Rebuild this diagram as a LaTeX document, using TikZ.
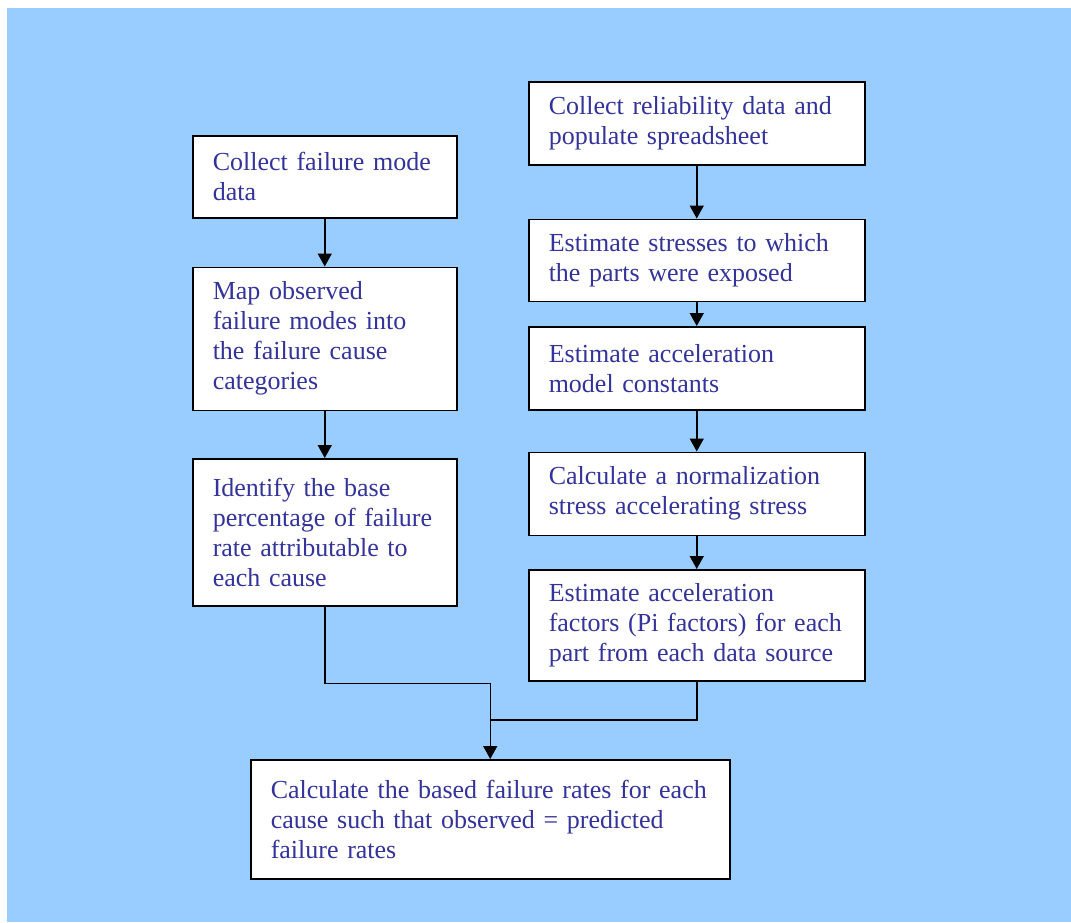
\documentclass[tikz,border=0pt]{standalone}
\usepackage{fontspec}
\setmainfont{Liberation Serif}
\usepackage{xcolor}
\usetikzlibrary{arrows.meta,positioning,calc}

\definecolor{bgblue}{RGB}{153,204,255}
\definecolor{txtblue}{RGB}{51,51,153}

\begin{document}
\begin{tikzpicture}[x=1pt, y=1pt,
    block/.style={rectangle, draw=black, line width=1.5pt, fill=white, text=txtblue, align=left,
        inner xsep=20pt, inner ysep=4pt, font=\fontsize{26}{30}\selectfont},
    flow/.style={line width=1.5pt, -{Triangle[length=13pt, width=14pt]}},
    link/.style={line width=1.5pt}]

    % Background
    \useasboundingbox (0,0) rectangle (1071,-922);
    \fill[bgblue] (7,-8) rectangle (1071,-922);

    % Left side - failure modes
    \node[block, anchor=north west, text width=224pt, minimum height=82pt] (fmode) at (192,-135) {Collect failure mode\\data};
    \node[block, text width=224pt, minimum height=143pt, below=48pt of fmode] (mapcause) {Map observed\\failure modes into\\the failure cause\\categories};
    \node[block, text width=224pt, minimum height=147pt, below=47pt of mapcause] (basepct) {Identify the base\\percentage of failure\\rate attributable to\\each cause};

    % Right side - reliability data
    \node[block, anchor=north west, text width=296pt, minimum height=83pt] (reldata) at (528,-81) {Collect reliability data and\\populate spreadsheet};
    \node[block, text width=296pt, minimum height=82pt, below=53pt of reldata] (stress) {Estimate stresses to which\\the parts were exposed};
    \node[block, text width=296pt, minimum height=83pt, below=24pt of stress] (accel) {Estimate acceleration\\model constants};
    \node[block, text width=296pt, minimum height=83pt, below=41pt of accel] (norm) {Calculate a normalization\\stress accelerating stress};
    \node[block, text width=296pt, minimum height=111pt, below=33pt of norm] (pifact) {Estimate acceleration\\factors (Pi factors) for each\\part from each data source};

    % Result
    \node[block, anchor=north west, text width=439pt, minimum height=119pt] (rates) at (250,-759) {Calculate the based failure rates for each\\cause such that observed = predicted\\failure rates};

    % Arrows
    \draw[flow] (fmode) -- (mapcause);
    \draw[flow] (mapcause) -- (basepct);
    \draw[flow] (reldata) -- (stress);
    \draw[flow] (stress) -- (accel);
    \draw[flow] (accel) -- (norm);
    \draw[flow] (norm) -- (pifact);
    \coordinate (join) at ($(rates.north)+(0,39)$);
    \draw[flow] (basepct.south) -- ++(0,-77) -| (rates.north);
    \draw[link] (pifact.south) |- (join);

\end{tikzpicture}
\end{document}
